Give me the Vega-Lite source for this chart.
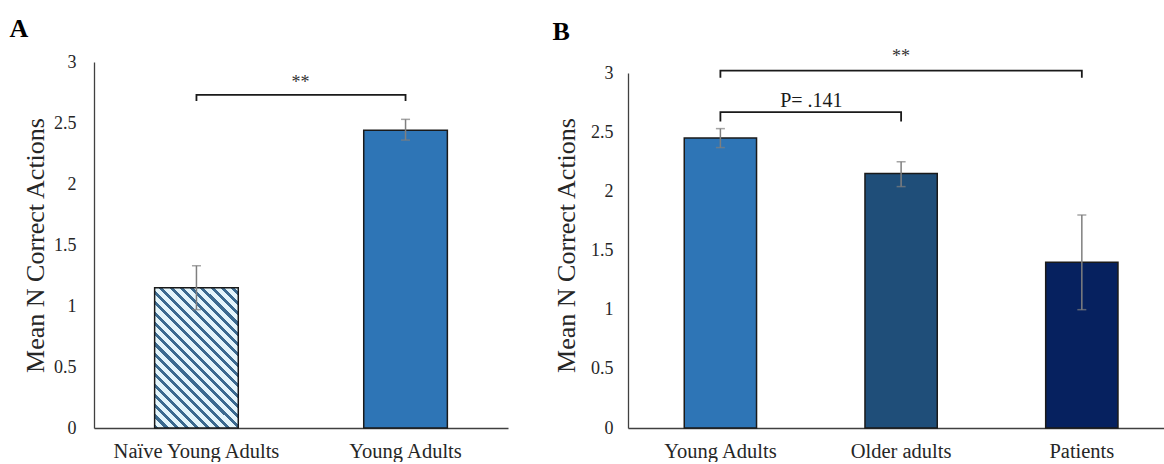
{
  "$schema": "https://vega.github.io/schema/vega-lite/v6.json",
  "padding": {"left": 9, "top": 16, "right": 0, "bottom": 0},
  "background": "white",
  "spacing": 44,
  "config": {
    "view": {"stroke": null},
    "font": "Liberation Serif",
    "axis": {"labelFont": "Liberation Serif", "titleFont": "Liberation Serif", "ticks": false, "grid": false, "domainColor": "#404040", "domainWidth": 1.3, "labelColor": "#262626", "titleColor": "#262626", "titleFontWeight": "normal"},
    "axisX": {"labelFontSize": 20.5, "labelPadding": 13, "labelAngle": 0},
    "axisY": {"labelFontSize": 18, "titleFontSize": 26},
    "title": {"font": "Liberation Serif", "fontSize": 26, "fontWeight": "bold", "color": "#000000", "anchor": "start", "frame": "bounds"}
  },
  "datasets": {
    "barsA": [
      {"group": "Naïve Young Adults", "mean": 1.15, "lo": 0.97, "hi": 1.33},
      {"group": "Young Adults", "mean": 2.44, "lo": 2.36, "hi": 2.53}
    ],
    "brA": [
      {"id": 1, "group": "Naïve Young Adults", "v": 2.68, "ord": 1},
      {"id": 1, "group": "Naïve Young Adults", "v": 2.73, "ord": 2},
      {"id": 1, "group": "Young Adults", "v": 2.73, "ord": 3},
      {"id": 1, "group": "Young Adults", "v": 2.68, "ord": 4}
    ],
    "txtA": [
      {"group": "Naïve Young Adults", "v": 2.83, "label": "**"}
    ],
    "barsB": [
      {"group": "Young Adults", "mean": 2.45, "lo": 2.37, "hi": 2.53},
      {"group": "Older adults", "mean": 2.15, "lo": 2.04, "hi": 2.25},
      {"group": "Patients", "mean": 1.4, "lo": 1.0, "hi": 1.8}
    ],
    "brB": [
      {"id": 1, "group": "Young Adults", "v": 2.59, "ord": 1},
      {"id": 1, "group": "Young Adults", "v": 2.67, "ord": 2},
      {"id": 1, "group": "Older adults", "v": 2.67, "ord": 3},
      {"id": 1, "group": "Older adults", "v": 2.59, "ord": 4},
      {"id": 2, "group": "Young Adults", "v": 2.96, "ord": 1},
      {"id": 2, "group": "Young Adults", "v": 3.02, "ord": 2},
      {"id": 2, "group": "Patients", "v": 3.02, "ord": 3},
      {"id": 2, "group": "Patients", "v": 2.96, "ord": 4}
    ],
    "txtB1": [
      {"group": "Older adults", "v": 3.135, "label": "**"}
    ],
    "txtB2": [
      {"group": "Young Adults", "v": 2.765, "label": "P= .141"}
    ]
  },
  "hconcat": [
    {
      "width": 414,
      "height": 366,
      "title": {"text": "A", "dx": -13, "offset": 11},
      "encoding": {
        "x": {"field": "group", "type": "nominal", "sort": ["Naïve Young Adults", "Young Adults"], "scale": {"paddingInner": 0.6, "paddingOuter": 0.29}, "axis": {"title": null}}
      },
      "layer": [
        {
          "data": {"name": "barsA"},
          "transform": [{"filter": "datum.group === 'Naïve Young Adults'"}],
          "mark": {"type": "bar", "stroke": "#1a1a1a", "strokeWidth": 1.5,
            "fill": {"gradient": "linear", "x1": 0, "y1": 1, "x2": 1, "y2": -0.678, "stops": [
              {"offset": 0, "color": "#3C6A8F"}, {"offset": 0.0129, "color": "#3C6A8F"}, {"offset": 0.0129, "color": "#E4F5FB"}, {"offset": 0.0323, "color": "#E4F5FB"},
              {"offset": 0.0323, "color": "#3C6A8F"}, {"offset": 0.0452, "color": "#3C6A8F"}, {"offset": 0.0452, "color": "#E4F5FB"}, {"offset": 0.0645, "color": "#E4F5FB"},
              {"offset": 0.0645, "color": "#3C6A8F"}, {"offset": 0.0774, "color": "#3C6A8F"}, {"offset": 0.0774, "color": "#E4F5FB"}, {"offset": 0.0968, "color": "#E4F5FB"},
              {"offset": 0.0968, "color": "#3C6A8F"}, {"offset": 0.1097, "color": "#3C6A8F"}, {"offset": 0.1097, "color": "#E4F5FB"}, {"offset": 0.129, "color": "#E4F5FB"},
              {"offset": 0.129, "color": "#3C6A8F"}, {"offset": 0.1419, "color": "#3C6A8F"}, {"offset": 0.1419, "color": "#E4F5FB"}, {"offset": 0.1613, "color": "#E4F5FB"},
              {"offset": 0.1613, "color": "#3C6A8F"}, {"offset": 0.1742, "color": "#3C6A8F"}, {"offset": 0.1742, "color": "#E4F5FB"}, {"offset": 0.1935, "color": "#E4F5FB"},
              {"offset": 0.1935, "color": "#3C6A8F"}, {"offset": 0.2064, "color": "#3C6A8F"}, {"offset": 0.2064, "color": "#E4F5FB"}, {"offset": 0.2258, "color": "#E4F5FB"},
              {"offset": 0.2258, "color": "#3C6A8F"}, {"offset": 0.2387, "color": "#3C6A8F"}, {"offset": 0.2387, "color": "#E4F5FB"}, {"offset": 0.2581, "color": "#E4F5FB"},
              {"offset": 0.2581, "color": "#3C6A8F"}, {"offset": 0.271, "color": "#3C6A8F"}, {"offset": 0.271, "color": "#E4F5FB"}, {"offset": 0.2903, "color": "#E4F5FB"},
              {"offset": 0.2903, "color": "#3C6A8F"}, {"offset": 0.3032, "color": "#3C6A8F"}, {"offset": 0.3032, "color": "#E4F5FB"}, {"offset": 0.3226, "color": "#E4F5FB"},
              {"offset": 0.3226, "color": "#3C6A8F"}, {"offset": 0.3355, "color": "#3C6A8F"}, {"offset": 0.3355, "color": "#E4F5FB"}, {"offset": 0.3548, "color": "#E4F5FB"},
              {"offset": 0.3548, "color": "#3C6A8F"}, {"offset": 0.3677, "color": "#3C6A8F"}, {"offset": 0.3677, "color": "#E4F5FB"}, {"offset": 0.3871, "color": "#E4F5FB"},
              {"offset": 0.3871, "color": "#3C6A8F"}, {"offset": 0.4, "color": "#3C6A8F"}, {"offset": 0.4, "color": "#E4F5FB"}, {"offset": 0.4194, "color": "#E4F5FB"},
              {"offset": 0.4194, "color": "#3C6A8F"}, {"offset": 0.4323, "color": "#3C6A8F"}, {"offset": 0.4323, "color": "#E4F5FB"}, {"offset": 0.4516, "color": "#E4F5FB"},
              {"offset": 0.4516, "color": "#3C6A8F"}, {"offset": 0.4645, "color": "#3C6A8F"}, {"offset": 0.4645, "color": "#E4F5FB"}, {"offset": 0.4839, "color": "#E4F5FB"},
              {"offset": 0.4839, "color": "#3C6A8F"}, {"offset": 0.4968, "color": "#3C6A8F"}, {"offset": 0.4968, "color": "#E4F5FB"}, {"offset": 0.5161, "color": "#E4F5FB"},
              {"offset": 0.5161, "color": "#3C6A8F"}, {"offset": 0.529, "color": "#3C6A8F"}, {"offset": 0.529, "color": "#E4F5FB"}, {"offset": 0.5484, "color": "#E4F5FB"},
              {"offset": 0.5484, "color": "#3C6A8F"}, {"offset": 0.5613, "color": "#3C6A8F"}, {"offset": 0.5613, "color": "#E4F5FB"}, {"offset": 0.5806, "color": "#E4F5FB"},
              {"offset": 0.5806, "color": "#3C6A8F"}, {"offset": 0.5935, "color": "#3C6A8F"}, {"offset": 0.5935, "color": "#E4F5FB"}, {"offset": 0.6129, "color": "#E4F5FB"},
              {"offset": 0.6129, "color": "#3C6A8F"}, {"offset": 0.6258, "color": "#3C6A8F"}, {"offset": 0.6258, "color": "#E4F5FB"}, {"offset": 0.6452, "color": "#E4F5FB"},
              {"offset": 0.6452, "color": "#3C6A8F"}, {"offset": 0.6581, "color": "#3C6A8F"}, {"offset": 0.6581, "color": "#E4F5FB"}, {"offset": 0.6774, "color": "#E4F5FB"},
              {"offset": 0.6774, "color": "#3C6A8F"}, {"offset": 0.6903, "color": "#3C6A8F"}, {"offset": 0.6903, "color": "#E4F5FB"}, {"offset": 0.7097, "color": "#E4F5FB"},
              {"offset": 0.7097, "color": "#3C6A8F"}, {"offset": 0.7226, "color": "#3C6A8F"}, {"offset": 0.7226, "color": "#E4F5FB"}, {"offset": 1, "color": "#E4F5FB"}
            ]}
          },
          "encoding": {
            "y": {"field": "mean", "type": "quantitative", "title": "Mean N Correct Actions", "scale": {"domain": [0, 3], "nice": false}, "axis": {"values": [0, 0.5, 1, 1.5, 2, 2.5, 3], "format": "~g", "labelPadding": 18, "titlePadding": 5}}
          }
        },
        {
          "data": {"name": "barsA"},
          "transform": [{"filter": "datum.group === 'Young Adults'"}],
          "mark": {"type": "bar", "fill": "#2E75B6", "stroke": "#1a1a1a", "strokeWidth": 1.5},
          "encoding": {"y": {"field": "mean", "type": "quantitative", "title": "Mean N Correct Actions"}}
        },
        {
          "data": {"name": "barsA"},
          "mark": {"type": "rule", "color": "#7f7f7f", "strokeWidth": 1.5},
          "encoding": {"y": {"field": "lo", "type": "quantitative", "title": "Mean N Correct Actions"}, "y2": {"field": "hi"}}
        },
        {
          "data": {"name": "barsA"},
          "mark": {"type": "tick", "color": "#7f7f7f", "size": 9, "thickness": 1.5, "orient": "horizontal"},
          "encoding": {"y": {"field": "hi", "type": "quantitative", "title": "Mean N Correct Actions"}}
        },
        {
          "data": {"name": "barsA"},
          "mark": {"type": "tick", "color": "#7f7f7f", "size": 9, "thickness": 1.5, "orient": "horizontal"},
          "encoding": {"y": {"field": "lo", "type": "quantitative", "title": "Mean N Correct Actions"}}
        },
        {
          "data": {"name": "brA"},
          "mark": {"type": "line", "color": "#1a1a1a", "strokeWidth": 1.8},
          "encoding": {"y": {"field": "v", "type": "quantitative", "title": "Mean N Correct Actions"}, "detail": {"field": "id"}, "order": {"field": "ord"}}
        },
        {
          "data": {"name": "txtA"},
          "mark": {"type": "text", "fontSize": 18, "color": "#333333", "dx": 104, "baseline": "middle", "font": "Liberation Serif"},
          "encoding": {"y": {"field": "v", "type": "quantitative", "title": "Mean N Correct Actions"}, "text": {"field": "label"}}
        }
      ]
    },
    {
      "width": 536,
      "height": 366,
      "title": {"text": "B", "dx": -1, "offset": 3},
      "encoding": {
        "x": {"field": "group", "type": "nominal", "sort": ["Young Adults", "Older adults", "Patients"], "scale": {"paddingInner": 0.6, "paddingOuter": 0.283, "align": 0.55}, "axis": {"title": null}}
      },
      "layer": [
        {
          "data": {"name": "barsB"},
          "mark": {"type": "bar", "stroke": "#1a1a1a", "strokeWidth": 1.5},
          "encoding": {
            "y": {"field": "mean", "type": "quantitative", "title": "Mean N Correct Actions", "scale": {"domain": [0, 3.093], "nice": false}, "axis": {"values": [0, 0.5, 1, 1.5, 2, 2.5, 3], "format": "~g", "labelPadding": 15, "titlePadding": 11, "domainDash": [355, 100]}},
            "fill": {"field": "group", "type": "nominal", "scale": {"domain": ["Young Adults", "Older adults", "Patients"], "range": ["#2E75B6", "#1F4E79", "#06215F"]}, "legend": null}
          }
        },
        {
          "data": {"name": "barsB"},
          "mark": {"type": "rule", "color": "#7f7f7f", "strokeWidth": 1.5},
          "encoding": {"y": {"field": "lo", "type": "quantitative", "title": "Mean N Correct Actions"}, "y2": {"field": "hi"}}
        },
        {
          "data": {"name": "barsB"},
          "mark": {"type": "tick", "color": "#7f7f7f", "size": 9, "thickness": 1.5, "orient": "horizontal"},
          "encoding": {"y": {"field": "hi", "type": "quantitative", "title": "Mean N Correct Actions"}}
        },
        {
          "data": {"name": "barsB"},
          "mark": {"type": "tick", "color": "#7f7f7f", "size": 9, "thickness": 1.5, "orient": "horizontal"},
          "encoding": {"y": {"field": "lo", "type": "quantitative", "title": "Mean N Correct Actions"}}
        },
        {
          "data": {"name": "brB"},
          "mark": {"type": "line", "color": "#1a1a1a", "strokeWidth": 1.8},
          "encoding": {"y": {"field": "v", "type": "quantitative", "title": "Mean N Correct Actions"}, "detail": {"field": "id"}, "order": {"field": "ord"}}
        },
        {
          "data": {"name": "txtB1"},
          "mark": {"type": "text", "fontSize": 18, "color": "#333333", "baseline": "middle", "font": "Liberation Serif"},
          "encoding": {"y": {"field": "v", "type": "quantitative", "title": "Mean N Correct Actions"}, "text": {"field": "label"}}
        },
        {
          "data": {"name": "txtB2"},
          "mark": {"type": "text", "fontSize": 20, "color": "#1a1a1a", "dx": 91, "baseline": "middle", "font": "Liberation Serif"},
          "encoding": {"y": {"field": "v", "type": "quantitative", "title": "Mean N Correct Actions"}, "text": {"field": "label"}}
        }
      ]
    }
  ]
}
